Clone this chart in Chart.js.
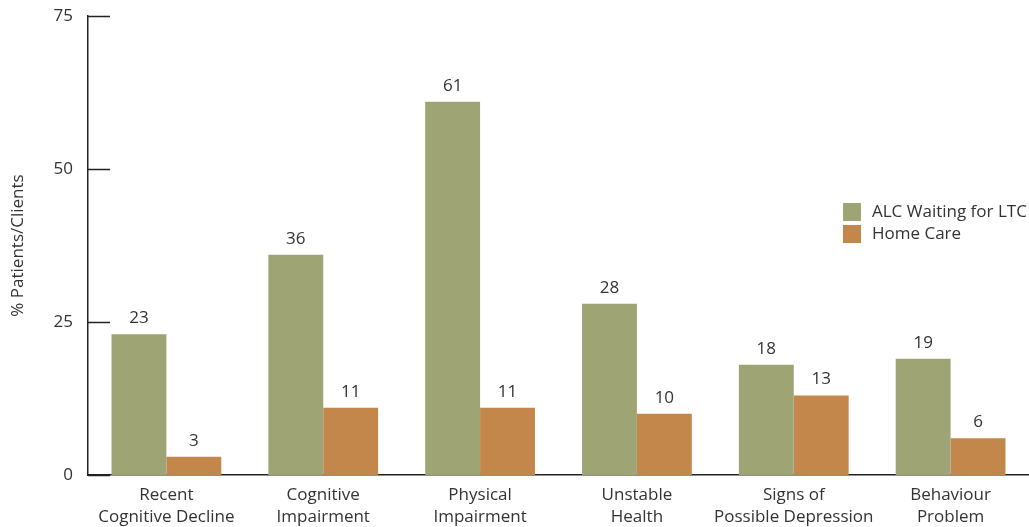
<!DOCTYPE html>
<html>
<head>
<meta charset="utf-8">
<script src="https://cdn.jsdelivr.net/npm/chart.js@4"></script>
<style>
    html, body { margin: 0; padding: 0; background: #fff; }
    #wrap { width: 1029px; height: 527px; position: relative; }
</style>
</head>
<body>
<div id="wrap"><canvas id="chart"></canvas></div>
<script>
// Catégories (libellés sur deux lignes)
const categories = [
    ["Recent", "Cognitive Decline"],
    ["Cognitive", "Impairment"],
    ["Physical", "Impairment"],
    ["Unstable", "Health"],
    ["Signs of", "Possible Depression"],
    ["Behaviour", "Problem"],
];
const seriesNames = ["ALC Waiting for LTC", "Home Care"];
const alcValues = [23, 36, 61, 28, 18, 19];
const homeCareValues = [3, 11, 11, 10, 13, 6];
const yTicks = [0, 25, 50, 75];

const GREEN = "#9ea474";
const ORANGE = "#c3874b";
const TEXT = "#333333";
const FONT = "'Open Sans', sans-serif";
const SIZE = 17;

// Petites graduations vers l'intérieur sur l'axe Y
const innerTicks = {
    id: "innerTicks",
    afterDraw(chart) {
        const ctx = chart.ctx;
        const y = chart.scales.y;
        const left = chart.chartArea.left;
        ctx.save();
        ctx.strokeStyle = "#222";
        ctx.lineWidth = 1.5;
        yTicks.forEach(v => {
            const py = Math.round(y.getPixelForValue(v)) + 0.5;
            ctx.beginPath();
            ctx.moveTo(left, py);
            ctx.lineTo(left + 22, py);
            ctx.stroke();
        });
        ctx.restore();
    }
};

// Valeurs au-dessus des barres
const barValues = {
    id: "barValues",
    afterDatasetsDraw(chart) {
        const ctx = chart.ctx;
        ctx.save();
        ctx.font = SIZE + "px " + FONT;
        ctx.fillStyle = TEXT;
        ctx.textAlign = "center";
        ctx.textBaseline = "alphabetic";
        chart.data.datasets.forEach((ds, i) => {
            chart.getDatasetMeta(i).data.forEach((bar, j) => {
                ctx.fillText(String(ds.data[j]), bar.x, bar.y - 11);
            });
        });
        ctx.restore();
    }
};

// Légende dessinée dans la zone du graphique
const boxLegend = {
    id: "boxLegend",
    afterDraw(chart) {
        const ctx = chart.ctx;
        ctx.save();
        ctx.font = SIZE + "px " + FONT;
        ctx.textBaseline = "middle";
        chart.data.datasets.forEach((ds, i) => {
            const top = 203 + i * 22;
            ctx.fillStyle = ds.backgroundColor;
            ctx.fillRect(843, top, 18, 18);
            ctx.fillStyle = TEXT;
            ctx.fillText(ds.label, 872, top + 9);
        });
        ctx.restore();
    }
};

new Chart(document.getElementById("chart"), {
    type: "bar",
    data: {
        labels: categories,
        datasets: [
            { label: seriesNames[0], data: alcValues, backgroundColor: GREEN },
            { label: seriesNames[1], data: homeCareValues, backgroundColor: ORANGE },
        ],
    },
    options: {
        responsive: true,
        maintainAspectRatio: false,
        animation: false,
        devicePixelRatio: 1,
        layout: { padding: { top: 16, right: 0, left: 0, bottom: 0 } },
        datasets: {
            bar: { categoryPercentage: 0.7, barPercentage: 1.0 },
        },
        plugins: {
            legend: { display: false },
            tooltip: { enabled: false },
        },
        scales: {
            x: {
                grid: { display: false, drawTicks: false },
                border: { color: "#222", width: 1.5 },
                ticks: {
                    color: TEXT,
                    font: { family: FONT, size: SIZE, lineHeight: 1.3 },
                    padding: 9,
                    maxRotation: 0,
                    autoSkip: false,
                },
                afterFit(scale) {
                    scale.height = 52;
                    scale.paddingLeft = 0;
                    scale.paddingRight = 0;
                },
            },
            y: {
                min: 0,
                max: 75,
                afterBuildTicks(scale) { scale.ticks = yTicks.map(v => ({ value: v })); },
                grid: { display: false, drawTicks: false },
                border: { color: "#222", width: 1.5 },
                ticks: {
                    color: TEXT,
                    font: { family: FONT, size: SIZE },
                    padding: 15,
                },
                title: {
                    display: true,
                    text: "% Patients/Clients",
                    color: TEXT,
                    font: { family: FONT, size: SIZE },
                    padding: { top: 8, bottom: 4 },
                },
                afterFit(scale) {
                    scale.width = 88;
                    scale.paddingTop = 0;
                    scale.paddingBottom = 0;
                },
            },
        },
    },
    plugins: [innerTicks, barValues, boxLegend],
});
</script>
</body>
</html>
